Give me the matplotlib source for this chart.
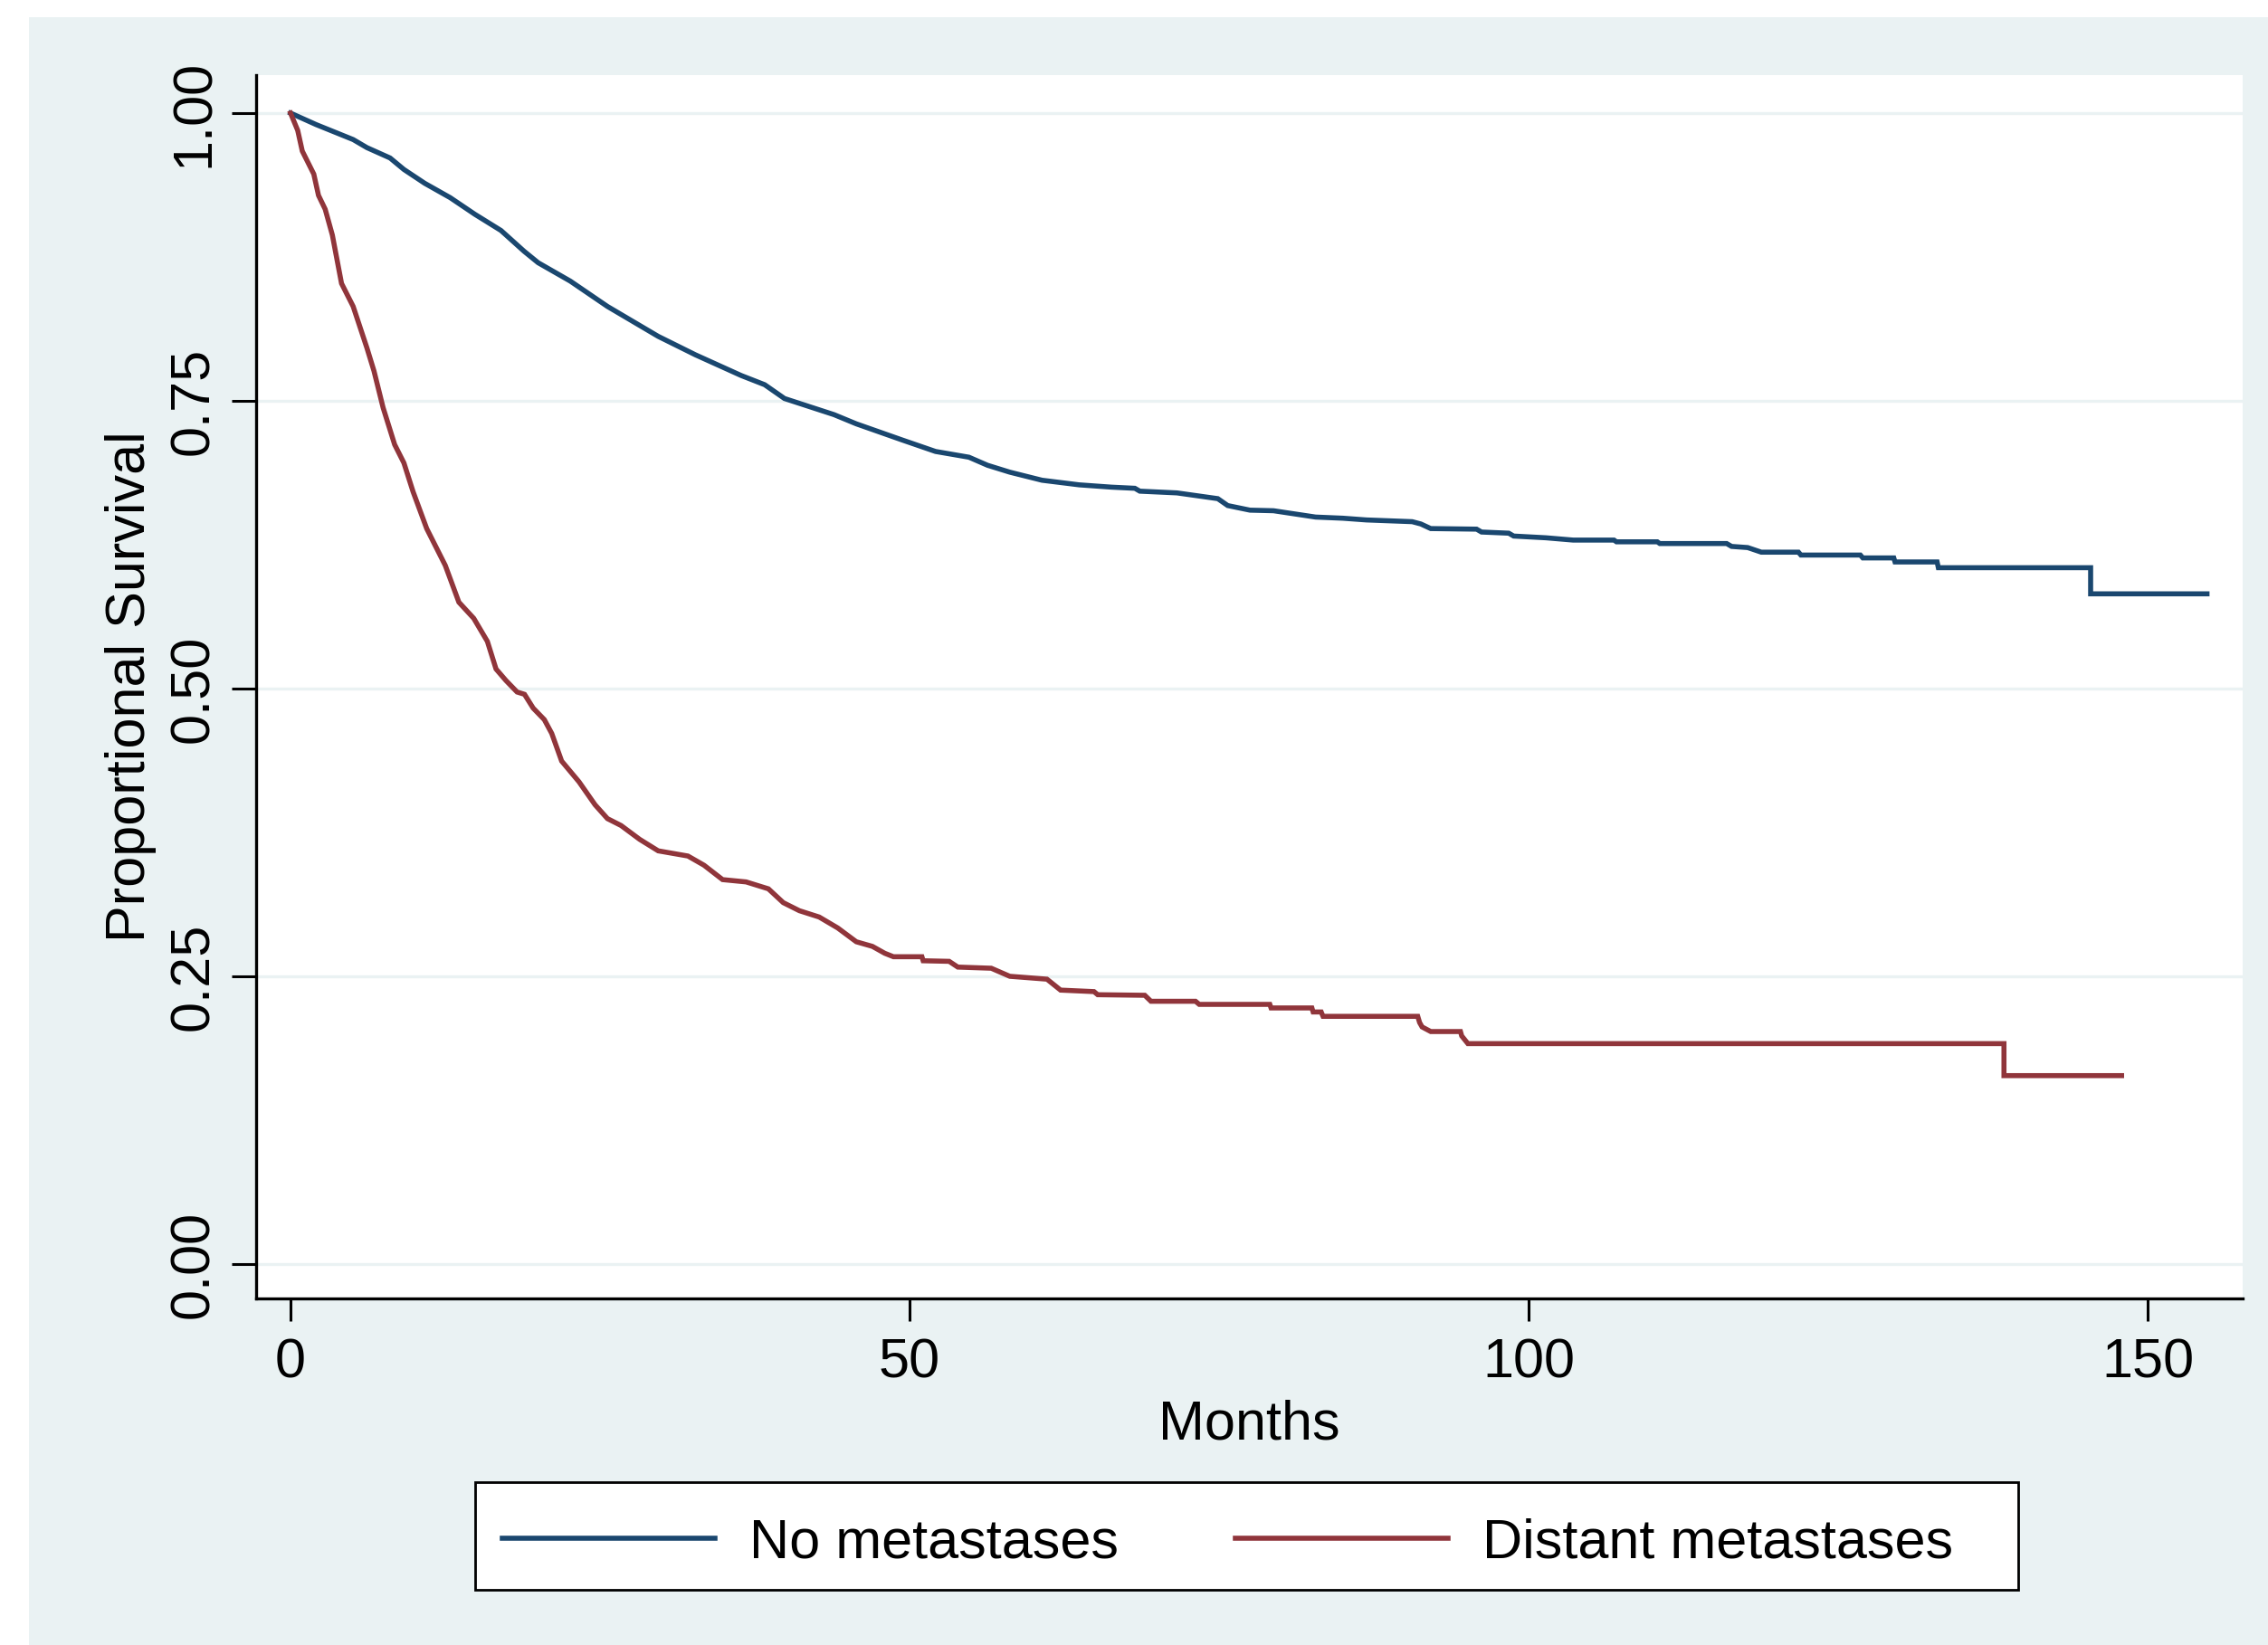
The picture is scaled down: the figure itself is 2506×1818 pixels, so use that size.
import matplotlib
matplotlib.use("Agg")
import matplotlib.pyplot as plt
from matplotlib.patches import Rectangle

# ---------------- data ----------------
no_met_months = [0, 2.07, 5.06, 6.17, 8.04, 9.16, 10.84, 12.9, 14.9, 17.0, 18.86, 20.0,
                 22.6, 25.6, 29.7, 32.7, 36.4, 38.3, 39.9, 43.9, 45.7, 49.4, 52.1, 54.8,
                 56.3, 58.1, 60.7, 63.7, 66.3, 68.2, 68.6, 71.6, 74.9, 75.7, 77.5, 79.4,
                 82.8, 85.0, 86.9, 90.6, 91.3, 92.1, 95.8, 96.2, 98.4, 98.8, 101.4, 103.6,
                 106.9, 107.1, 110.4, 110.6, 116.0, 116.4, 117.7, 118.8, 121.8, 122.0,
                 126.8, 127.0, 129.5, 129.6, 133.0, 133.1, 145.4, 145.4, 154.8]
no_met_surv = [1.0, 0.990, 0.977, 0.970, 0.961, 0.951, 0.939, 0.9265, 0.912, 0.898, 0.880, 0.870,
               0.854, 0.832, 0.806, 0.790, 0.772, 0.764, 0.752, 0.738, 0.730, 0.716, 0.706, 0.701,
               0.694, 0.688, 0.681, 0.677, 0.675, 0.674, 0.6715, 0.670, 0.665, 0.659, 0.655, 0.6545,
               0.649, 0.648, 0.6465, 0.645, 0.643, 0.639, 0.6385, 0.636, 0.635, 0.6325, 0.631, 0.629,
               0.629, 0.6275, 0.6275, 0.626, 0.626, 0.6235, 0.6225, 0.6185, 0.6185, 0.616,
               0.616, 0.6135, 0.6135, 0.610, 0.610, 0.605, 0.605, 0.5823, 0.5823]

dist_met_months = [0, 0.58, 0.95, 1.88, 2.26, 2.8, 3.38, 4.12, 5.06, 6.17, 6.74, 7.48, 8.41,
                   9.16, 9.9, 11.0, 12.5, 13.6, 14.8, 15.9, 16.6, 17.4, 18.3, 18.9, 19.6, 20.5,
                   21.1, 21.9, 23.3, 24.6, 25.6, 26.7, 28.2, 29.7, 32.1, 33.4, 34.9, 36.8, 38.6,
                   39.8, 41.1, 42.7, 44.2, 45.7, 47.0, 48.0, 48.7, 51.0, 51.1, 53.2, 53.9, 56.6,
                   58.1, 61.1, 62.2, 64.9, 65.2, 69.0, 69.5, 73.1, 73.4, 79.1, 79.2, 82.5, 82.6,
                   83.25, 83.4, 91.05, 91.2, 91.4, 92.1, 94.5, 94.6, 95.1, 138.4, 138.4, 147.9]
dist_met_surv = [1.0, 0.985, 0.967, 0.947, 0.9285, 0.9165, 0.894, 0.852, 0.832, 0.796, 0.776, 0.744, 0.712,
                 0.696, 0.671, 0.639, 0.607, 0.575, 0.561, 0.541, 0.517, 0.507, 0.497, 0.495, 0.483, 0.473,
                 0.461, 0.437, 0.419, 0.399, 0.387, 0.381, 0.369, 0.359, 0.3545, 0.3465, 0.334, 0.332, 0.326,
                 0.314, 0.307, 0.3015, 0.292, 0.280, 0.276, 0.270, 0.267, 0.267, 0.2635, 0.263, 0.258, 0.257,
                 0.250, 0.2475, 0.238, 0.2367, 0.234, 0.2335, 0.2283, 0.2283, 0.2256, 0.2256, 0.2225, 0.2225, 0.219,
                 0.219, 0.2152, 0.2152, 0.2098, 0.2060, 0.2020, 0.2020, 0.1982, 0.1915, 0.1915, 0.1637, 0.1637]

series_labels = ["No metastases", "Distant metastases"]
x_ticks = [0, 50, 100, 150]
x_tick_labels = ["0", "50", "100", "150"]
y_ticks = [0.0, 0.25, 0.5, 0.75, 1.0]
y_tick_labels = ["0.00", "0.25", "0.50", "0.75", "1.00"]
x_title = "Months"
y_title = "Proportional Survival"

# ---------------- style ----------------
NAVY = (26/255, 71/255, 111/255)
MAROON = (144/255, 53/255, 59/255)
BG = (234/255, 242/255, 243/255)
FS = 44
LW = 4.0

plt.rcParams['font.family'] = ['Liberation Sans', 'DejaVu Sans']

W, H = 2506, 1818
fig = plt.figure(figsize=(W/100, H/100), dpi=100, facecolor='white')

# light bluish graph region (drawn behind everything)
fig.patches.append(Rectangle((32/W, 0), 1 - 32/W, 1 - 19/H, transform=fig.transFigure,
                             facecolor=BG, edgecolor='none', zorder=-10))

ax = fig.add_axes([283/W, 1 - 1435/H, (2478 - 283)/W, (1435 - 83)/H])
ax.set_zorder(1)
ax.set_facecolor('white')

ax.plot(no_met_months, no_met_surv, color=NAVY, lw=LW, label=series_labels[0],
        solid_joinstyle='miter', zorder=3)
ax.plot(dist_met_months, dist_met_surv, color=MAROON, lw=LW, label=series_labels[1],
        solid_joinstyle='miter', zorder=3)

ax.set_xlim(-2.778, 157.68)
ax.set_ylim(-0.0299, 1.033)

for s in ['top', 'right']:
    ax.spines[s].set_visible(False)
for s in ['left', 'bottom']:
    ax.spines[s].set_color('black')
    ax.spines[s].set_linewidth(2.4)

ax.set_xticks(x_ticks, x_tick_labels)
ax.set_yticks(y_ticks, y_tick_labels)
for lab in ax.get_yticklabels():
    lab.set_rotation(90)
    lab.set_va('center')
ax.tick_params(axis='x', length=18, width=2.2, pad=13, labelsize=FS, color='black')
ax.tick_params(axis='y', length=19.5, width=2.2, pad=9, labelsize=FS, color='black')

ax.yaxis.grid(True, color=BG, lw=2.4, zorder=0)
ax.set_axisbelow(True)

ax.set_xlabel(x_title, fontsize=FS, labelpad=8)
ax.set_ylabel(y_title, fontsize=FS, labelpad=10)

# legend frame box
fig.patches.append(Rectangle((525/W, 1 - 1757/H), (2230 - 525)/W, (1757 - 1638)/H,
                             transform=fig.transFigure, facecolor='white',
                             edgecolor='black', lw=2.0, zorder=2))
leg = fig.legend(loc='center left', bbox_to_anchor=(555/W, 1 - 1706/H), ncol=2,
                 fontsize=FS, frameon=False, handlelength=3.85, handletextpad=0.62,
                 columnspacing=2.1, borderpad=0, borderaxespad=0)
leg.set_zorder(3)

fig.savefig("out.png", dpi=100, facecolor='white')
